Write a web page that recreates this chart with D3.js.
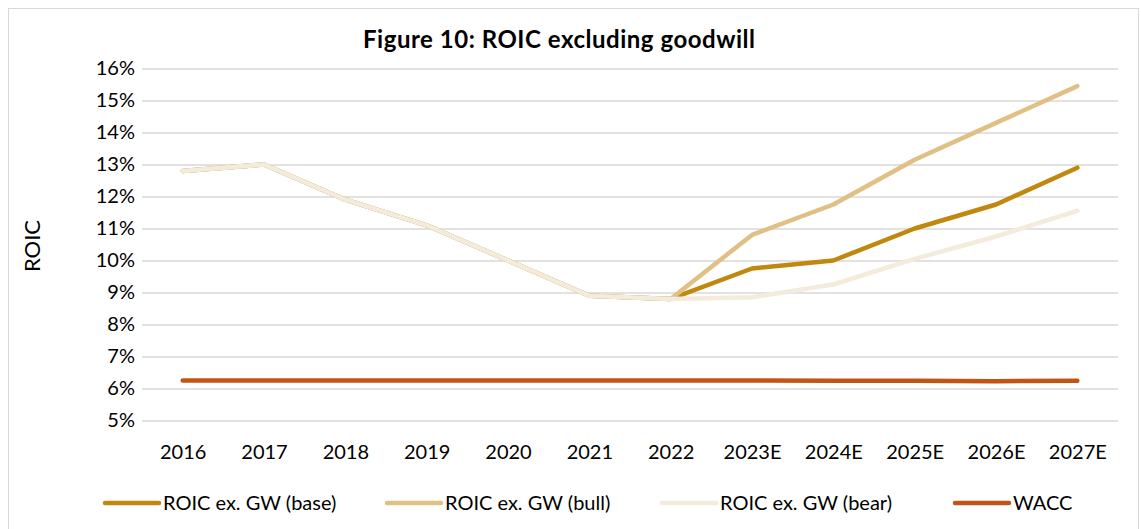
<!DOCTYPE html>
<html><head><meta charset="utf-8">
<script src="https://cdn.jsdelivr.net/npm/d3@7"></script>
<style>body{margin:0;background:#fff}svg{display:block}text{font-family:Lato,"Open Sans",sans-serif;fill:#000}</style>
</head><body>
<svg id="c" width="1141" height="529"></svg>
<script>
const categories = ["2016","2017","2018","2019","2020","2021","2022","2023E","2024E","2025E","2026E","2027E"];
const roicBase = [12.8,13.0,11.9,11.1,10.0,8.9,8.8,9.75,10.0,11.0,11.75,12.9];
const roicBull = [12.8,13.0,11.9,11.1,10.0,8.9,8.8,10.8,11.75,13.15,14.3,15.45];
const roicBear = [12.8,13.0,11.9,11.1,10.0,8.9,8.8,8.85,9.25,10.05,10.75,11.55];
const wacc = [6.25,6.25,6.25,6.25,6.25,6.25,6.25,6.25,6.24,6.24,6.23,6.24];
const yTicks = [5,6,7,8,9,10,11,12,13,14,15,16];
const seriesNames = ["ROIC ex. GW (base)","ROIC ex. GW (bull)","ROIC ex. GW (bear)","WACC"];
const colors = ["#C0880F","#E0C084","#F3EBDC","#C05514"];

const svg = d3.select("#c");
const L = 142, R = 1118, T = 68.5, B = 420.5;
svg.append("rect").attr("x",8.5).attr("y",8.5).attr("width",1130).attr("height",530).attr("fill","#fff").attr("stroke","#d9d9d9");

const x = d3.scalePoint().domain(categories).range([L,R]).padding(0.5);
const y = d3.scaleLinear().domain([5,16]).range([B,T]);

const yAxis = svg.append("g").attr("transform",`translate(${L},0)`)
  .call(d3.axisLeft(y).tickValues(yTicks).tickFormat(d=>d+"%").tickSize(-(R-L)).tickPadding(7));
yAxis.select(".domain").remove();
yAxis.selectAll(".tick line").attr("stroke","#d9d9d9").attr("stroke-width",1.3);
yAxis.selectAll("text").style("font-size","20px");

const xAxis = svg.append("g").attr("transform",`translate(0,${B})`)
  .call(d3.axisBottom(x).tickSize(0).tickPadding(24));
xAxis.select(".domain").remove();
xAxis.selectAll("text").style("font-size","20px");

svg.append("text").attr("transform","translate(40,246) rotate(-90)").attr("text-anchor","middle").style("font-size","22px").text("ROIC");
svg.append("text").attr("x",559).attr("y",48).attr("text-anchor","middle").style("font-size","24px").style("font-weight","bold")
  .attr("textLength",392).attr("lengthAdjust","spacing").text("Figure 10: ROIC excluding goodwill");

const data = [roicBase, roicBull, roicBear, wacc];
const line = d3.line().x((d,i)=>x(categories[i])).y(d=>y(d));
data.forEach((s,k)=>{
  svg.append("path").datum(s).attr("d",line).attr("fill","none").attr("stroke",colors[k])
    .attr("stroke-width",4.5).attr("stroke-linejoin","round").attr("stroke-linecap","round");
});

const legX = [103, 385, 660, 953];
seriesNames.forEach((n,k)=>{
  const g = svg.append("g").attr("transform",`translate(${legX[k]},503)`);
  g.append("line").attr("x1",2).attr("x2",56).attr("y1",0).attr("y2",0).attr("stroke",colors[k]).attr("stroke-width",4.5).attr("stroke-linecap","round");
  g.append("text").attr("x",60).attr("y",7).style("font-size","20px").text(n);
});
</script>
</body></html>
